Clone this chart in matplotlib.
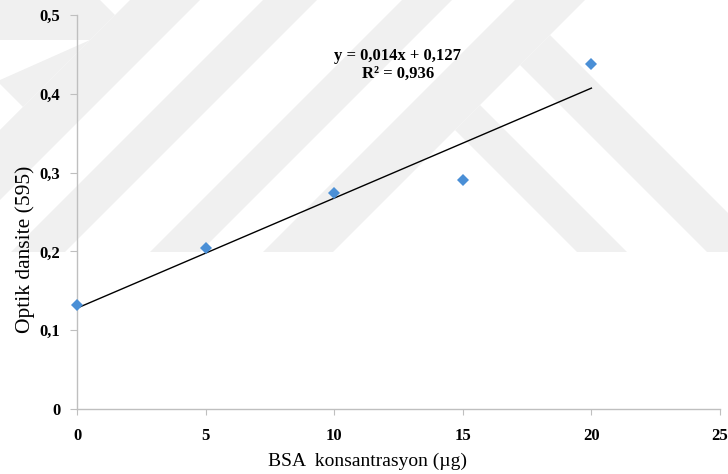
import numpy as np
import matplotlib
matplotlib.use("Agg")
import matplotlib.pyplot as plt
from matplotlib.patches import Polygon

# ---- data ----
bsa_ug = [0, 5, 10, 15, 20]
optical_density = [0.132, 0.204, 0.274, 0.290, 0.438]
x_ticks = [0, 5, 10, 15, 20, 25]
x_tick_labels = ["0", "5", "10", "15", "20", "25"]
y_ticks = [0, 0.1, 0.2, 0.3, 0.4, 0.5]
y_tick_labels = ["0", "0,1", "0,2", "0,3", "0,4", "0,5"]
equation_text = "y = 0,014x + 0,127\nR² = 0,936"
x_label = "BSA  konsantrasyon (µg)"
y_label = "Optik dansite (595)"

W, H = 728, 474
fig = plt.figure(figsize=(W / 100, H / 100), dpi=100)
fig.patch.set_facecolor("white")

# ---- faint background watermark (pixel coords, y down) ----
wm = "#f0f0f0"
def px(pts):
    return [(x / W, 1 - y / H) for x, y in pts]

def add_poly(pts, color=wm):
    fig.patches.append(Polygon(px(pts), closed=True, facecolor=color,
                               edgecolor="none", transform=fig.transFigure,
                               zorder=-10))

cut = 252
# upper-left corner region
add_poly([(0, 0), (130, 0), (0, 130)])
add_poly([(0, 40), (90, 40), (0, 80)], "white")
add_poly([(0, 84), (23, 107), (0, 130)], "white")
add_poly([(100, 0), (133, 0), (116, 16)], "white")
# "/" bands  (x + y in [a, b])
for a, b in [(130, 200), (263, 317), (402, 452), (515, 585)]:
    add_poly([(a, 0), (b, 0), (b - cut, cut), (a - cut, cut)])
# "\" bands hanging from the last "/" band
for c, d in [(325, 375), (455, 515)]:
    e = 585
    add_poly([((e + c) / 2, (e - c) / 2), ((e + d) / 2, (e - d) / 2),
              (d + cut, cut), (c + cut, cut)])

# ---- axes ----
ax = fig.add_axes([77 / W, (H - 409) / H, (720 - 77) / W, (409 - 15) / H])
ax.set_zorder(5)
ax.set_facecolor("none")
ax.set_xlim(0, 25)
ax.set_ylim(0, 0.5)

slope, intercept = np.polyfit(bsa_ug, optical_density, 1)
xf = np.array([min(bsa_ug), max(bsa_ug)])
ax.plot(xf, slope * xf + intercept, color="black", lw=1.0, zorder=3)
ax.plot(bsa_ug, optical_density, linestyle="none", marker="D", ms=6.5,
        color="#4a8fd6", markeredgewidth=0, clip_on=False, zorder=4)

serif = ["Liberation Serif", "DejaVu Serif"]
for s in ["top", "right"]:
    ax.spines[s].set_visible(False)
for s in ["left", "bottom"]:
    ax.spines[s].set_color("#bfbfbf")
    ax.spines[s].set_linewidth(1.0)

ax.set_xticks(x_ticks)
ax.set_xticklabels(x_tick_labels, fontfamily=serif, fontweight="bold", fontsize=12)
ax.set_yticks(y_ticks)
ax.set_yticklabels(y_tick_labels, fontfamily=serif, fontweight="bold", fontsize=12)
ax.tick_params(axis="x", direction="out", length=4, color="#bfbfbf", pad=10)
ax.tick_params(axis="y", direction="out", length=5, color="#bfbfbf", pad=7)

ax.set_xlabel(x_label, fontfamily=serif, fontsize=14)
ax.set_ylabel(y_label, fontfamily=serif, fontsize=15.5)
ax.xaxis.set_label_coords((368 - 77) / 643, -(461 - 409) / 394)
ax.yaxis.set_label_coords(-(77 - 25) / 643, (409 - 249) / 394)
ax.xaxis.label.set_va("center")
ax.yaxis.label.set_va("center")

ax.text((398 - 77) / 643, (409 - 65) / 394, equation_text, transform=ax.transAxes,
        ha="center", va="center", fontfamily=serif, fontweight="bold",
        fontsize=12, linespacing=1.15)

fig.savefig("out.png", dpi=100)
